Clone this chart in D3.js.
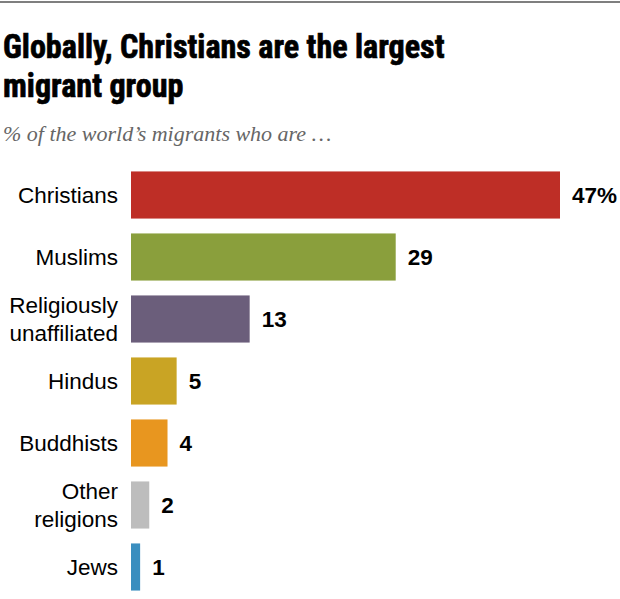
<!DOCTYPE html>
<html><head><meta charset="utf-8">
<script src="https://cdn.jsdelivr.net/npm/d3@7"></script>
<style>body{margin:0;background:#fff}</style>
</head><body>
<svg id="c" width="620" height="599"></svg>
<script>
const categories = ["Christians","Muslims","Religiously\nunaffiliated","Hindus","Buddhists","Other\nreligions","Jews"];
const values = [47,29,13,5,4,2,1];
const valueLabels = ["47%","29","13","5","4","2","1"];
const colors = ["#BE2E26","#8A9F3C","#6B5E7B","#C9A424","#E8961F","#BDBDBD","#3A8EBF"];

const svg = d3.select("#c");
svg.append("line").attr("x1",0).attr("x2",620).attr("y1",2).attr("y2",2).attr("stroke","#555").attr("stroke-width",1.5);

const tf = "'Liberation Sans Narrow','Roboto Condensed','DejaVu Sans Condensed',sans-serif";
const title = svg.append("g").attr("transform","translate(3,0) scale(0.945,1)");
title.append("text").attr("x",0).attr("y",58).attr("font-family",tf).attr("font-weight","bold").attr("font-size",34).attr("fill","#000").attr("stroke","#000").attr("stroke-width",0.7).text("Globally, Christians are the largest");
title.append("text").attr("x",0).attr("y",97).attr("font-family",tf).attr("font-weight","bold").attr("font-size",34).attr("fill","#000").attr("stroke","#000").attr("stroke-width",0.7).text("migrant group");
svg.append("text").attr("x",3).attr("y",141).attr("font-family","Georgia,'Liberation Serif','DejaVu Serif',serif").attr("font-style","italic").attr("font-size",22).attr("fill","#666").text("% of the world\u2019s migrants who are \u2026");

const x = d3.scaleLinear().domain([0,47]).range([131,560]);
const y = d3.scaleBand().domain(categories).range([164,598]).paddingInner(0.24).paddingOuter(0.12);

const g = svg.append("g");
g.selectAll("rect").data(values).join("rect")
  .attr("x",x(0)).attr("y",(d,i)=>y(categories[i]))
  .attr("width",d=>x(d)-x(0)).attr("height",y.bandwidth())
  .attr("fill",(d,i)=>colors[i]);

const lf = "'Liberation Sans','Arial',sans-serif";
categories.forEach((c,i)=>{
  const lines = c.split("\n");
  const cy = y(c)+y.bandwidth()/2;
  const t = g.append("text").attr("text-anchor","end").attr("font-family",lf).attr("font-size",22.5).attr("fill","#000");
  lines.forEach((l,j)=>{
    t.append("tspan").attr("x",118).attr("y",cy + 8 + (j-(lines.length-1)/2)*28).text(l);
  });
  g.append("text").attr("x",x(values[i])+12).attr("y",cy+8).attr("font-family",lf).attr("font-weight","bold").attr("font-size",22.5).attr("fill","#000").text(valueLabels[i]);
});
</script>
</body></html>
